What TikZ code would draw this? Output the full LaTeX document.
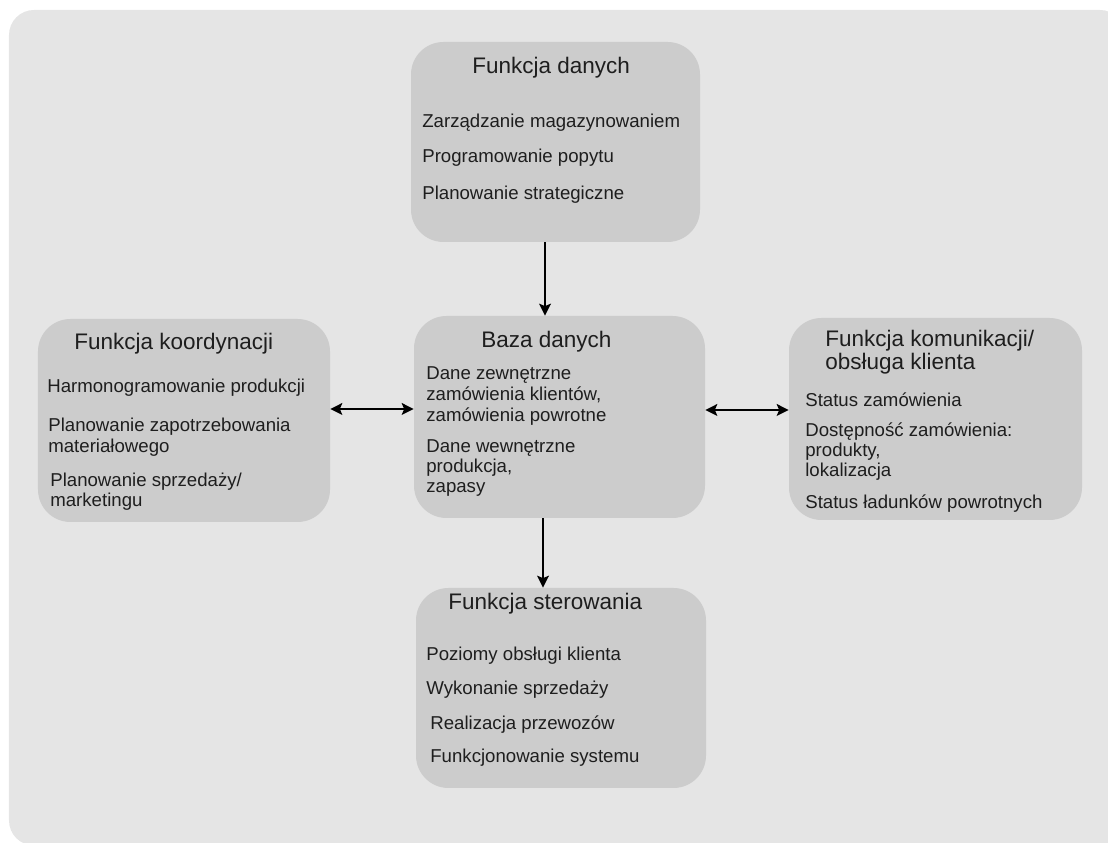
\documentclass[tikz,border=0pt]{standalone}
\usepackage{fontspec}
\setmainfont{Liberation Sans}
\usetikzlibrary{arrows.meta}
\definecolor{tlo}{HTML}{E5E5E5}
\definecolor{szary}{HTML}{CCCCCC}
\definecolor{napis}{HTML}{1E1E1E}
\tikzset{
  blok/.style={fill=szary, rounded corners=0.65cm, inner sep=0pt},
  tytul/.style={anchor=base west, inner sep=0pt, text=napis, font=\fontsize{12.8}{15}\selectfont},
  punkt/.style={anchor=base west, inner sep=0pt, text=napis, font=\fontsize{10.6}{12}\selectfont},
  grot/.style={line width=0.8pt, -{Stealth[length=2.4mm, width=2.4mm, inset=0.5mm]}},
  grot2/.style={line width=0.8pt, {Stealth[length=2.4mm, width=2.4mm, inset=0.5mm]}-{Stealth[length=2.4mm, width=2.4mm, inset=0.5mm]}}
}
\begin{document}
\begin{tikzpicture}

\useasboundingbox (0,0) rectangle (22.16,16.86);
\clip (0,0) rectangle (22.16,16.86);
\fill[tlo, rounded corners=0.5cm] (0.18,-0.05) rectangle (22.5,16.66);

% bloki
\node[blok, minimum width=5.78cm, minimum height=4.00cm] (danych) at (11.11,14.02) {};
\node[blok, minimum width=5.84cm, minimum height=4.06cm] (koord) at (3.68,8.45) {};
\node[blok, minimum width=5.82cm, minimum height=4.04cm] (baza) at (11.19,8.52) {};
\node[blok, minimum width=5.86cm, minimum height=4.04cm] (komun) at (18.71,8.48) {};
\node[blok, minimum width=5.80cm, minimum height=4.00cm] (sterow) at (11.22,3.10) {};

% Funkcja danych
\node[tytul] (danych-t) at (9.44,15.38) {Funkcja danych};
\node[punkt] (danych-1) at (8.44,14.30) {Zarządzanie magazynowaniem};
\node[punkt] (danych-2) at (8.44,13.60) {Programowanie popytu};
\node[punkt] (danych-3) at (8.44,12.86) {Planowanie strategiczne};

% Funkcja koordynacji
\node[tytul] (koord-t) at (1.48,9.86) {Funkcja koordynacji};
\node[punkt] (koord-1) at (0.94,9.00) {Harmonogramowanie produkcji};
\node[punkt] (koord-2) at (0.96,8.22) {Planowanie zapotrzebowania};
\node[punkt] (koord-3) at (0.96,7.80) {materiałowego};
\node[punkt] (koord-4) at (1.00,7.12) {Planowanie sprzedaży/};
\node[punkt] (koord-5) at (1.00,6.72) {marketingu};

% Baza danych
\node[tytul] (baza-t) at (9.62,9.90) {Baza danych};
\node[punkt] (baza-1) at (8.52,9.26) {Dane zewnętrzne};
\node[punkt] (baza-2) at (8.52,8.84) {zamówienia klientów,};
\node[punkt] (baza-3) at (8.52,8.42) {zamówienia powrotne};
\node[punkt] (baza-4) at (8.52,7.80) {Dane wewnętrzne};
\node[punkt] (baza-5) at (8.52,7.40) {produkcja,};
\node[punkt] (baza-6) at (8.52,7.00) {zapasy};

% Funkcja komunikacji
\node[tytul] (komun-t) at (16.50,9.92) {Funkcja komunikacji/};
\node[tytul] (komun-t2) at (16.50,9.46) {obsługa klienta};
\node[punkt] (komun-1) at (16.10,8.72) {Status zamówienia};
\node[punkt] (komun-2) at (16.10,8.12) {Dostępność zamówienia:};
\node[punkt] (komun-3) at (16.10,7.72) {produkty,};
\node[punkt] (komun-4) at (16.10,7.32) {lokalizacja};
\node[punkt] (komun-5) at (16.10,6.68) {Status ładunków powrotnych};

% Funkcja sterowania
\node[tytul] (sterow-t) at (8.96,4.66) {Funkcja sterowania};
\node[punkt] (sterow-1) at (8.52,3.64) {Poziomy obsługi klienta};
\node[punkt] (sterow-2) at (8.52,2.96) {Wykonanie sprzedaży};
\node[punkt] (sterow-3) at (8.60,2.26) {Realizacja przewozów};
\node[punkt] (sterow-4) at (8.60,1.60) {Funkcjonowanie systemu};

% strzalki
\draw[grot] ([xshift=-2.1mm]danych.south) -- ([xshift=-2.1mm]danych.south |- baza.north);
\draw[grot] ([xshift=-3.3mm]baza.south) -- ([xshift=-3.3mm]baza.south |- sterow.north);
\draw[grot2] ([yshift=2.3mm]koord.east) -- ([yshift=2.3mm]koord.east -| baza.west);
\draw[grot2] ([yshift=1.4mm]baza.east) -- ([yshift=1.4mm]baza.east -| komun.west);

\end{tikzpicture}
\end{document}
